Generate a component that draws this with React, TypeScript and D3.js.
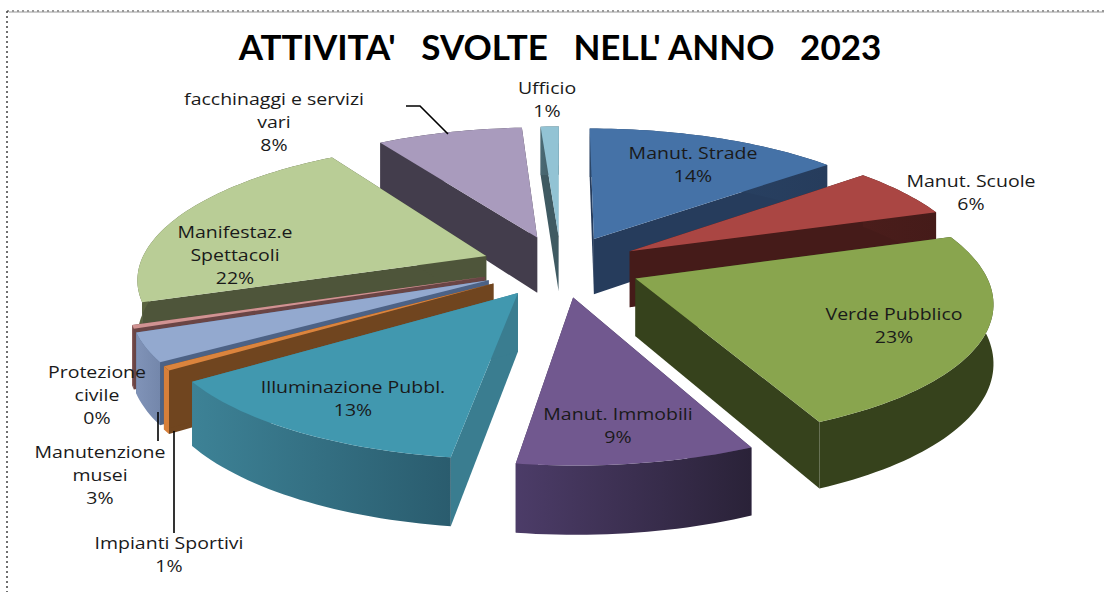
import React from "react";
import * as d3 from "d3";

const categories = ["Manut. Strade","Manut. Scuole","Verde Pubblico","Manut. Immobili","Illuminazione Pubbl.","Impianti Sportivi","Manutenzione musei","Protezione civile","Manifestaz.e Spettacoli","facchinaggi e servizi vari","Ufficio"];
const values = [14,6,23.3,9.2,13.1,0.5,3.4,0.4,21.6,8,1];
const percentLabels = ["14%","6%","23%","9%","13%","1%","3%","0%","22%","8%","1%"];
const topColors = ["#4572a7","#aa4643","#89a54e","#71588f","#4198af","#db843d","#93a9cf","#d19392","#b9cd96","#a99bbd","#92c3d4"];
const faceColors = ["#263c5c","#451b19","#36421c","#3e3155","#3a7d90","#70451f","#4d6285","#6a4545","#4e553a","#433d4c","#3f5a62"];
const wallFrom = ["#2b4668","#4a1d1b","#36421c","#4c3c68","#3d8296","#d67f3a","#8093b8","#8a5a58","#5a6340","#433d4c","#4a6a74"];
const wallTo = ["#263c5c","#451b19","#36421c","#2a2238","#2a5c6e","#d67f3a","#7487ab","#6a4545","#4e553a","#433d4c","#3f5a62"];

const labelLayout: { x: number; y: number; lines: string[] }[] = [
  { x: 693, y: 159, lines: ["Manut. Strade", "14%"] },
  { x: 971, y: 187, lines: ["Manut. Scuole", "6%"] },
  { x: 894, y: 320, lines: ["Verde Pubblico", "23%"] },
  { x: 618, y: 420, lines: ["Manut. Immobili", "9%"] },
  { x: 353, y: 393, lines: ["Illuminazione Pubbl.", "13%"] },
  { x: 169, y: 549, lines: ["Impianti Sportivi", "1%"] },
  { x: 100, y: 458, lines: ["Manutenzione", "musei", "3%"] },
  { x: 97, y: 378, lines: ["Protezione", "civile", "0%"] },
  { x: 235, y: 238, lines: ["Manifestaz.e", "Spettacoli", "22%"] },
  { x: 274, y: 105, lines: ["facchinaggi e servizi", "vari", "8%"] },
  { x: 547, y: 94, lines: ["Ufficio", "1%"] },
];
const leaders = [
  [[158, 412], [158, 441]],
  [[174, 431], [174, 533]],
  [[406, 106], [420, 106], [448, 134]],
];

const CX = 561, CY = 266, R = 347, EXPLODE = 80, TILT = 0.385, DX = 2300, DY = 2400, H = 57;
const LABEL_STRETCH = 1.22;

function project(xw: number, zw: number, drop = 0) {
  const sx = DX / (DX - zw);
  const sy = DY / (DY - zw);
  return [CX + xw * sx, CY + zw * TILT * sy + drop * sy];
}

export default function App() {
  const pie = d3.pie<number>().sort(null).startAngle(0).endAngle(2 * Math.PI);
  const arcs = pie(values);
  const line = d3.line();

  const slices = arcs.map((a, i) => {
    const mid = (a.startAngle + a.endAngle) / 2;
    const ax = EXPLODE * Math.sin(mid);
    const az = -EXPLODE * Math.cos(mid);
    const n = Math.max(2, Math.ceil((a.endAngle - a.startAngle) * 40));
    const angles = d3.range(n + 1).map((k) => a.startAngle + ((a.endAngle - a.startAngle) * k) / n);
    const world = angles.map((t) => [ax + R * Math.sin(t), az - R * Math.cos(t)]);
    const rim = world.map(([x, z]) => project(x, z) as [number, number]);
    const rimLow = world.map(([x, z]) => project(x, z, H) as [number, number]);
    const apex = project(ax, az) as [number, number];
    const apexLow = project(ax, az, H) as [number, number];
    const last = rim.length - 1;
    return { i, az, rim, rimLow, apex, apexLow, last };
  });
  const order = [...slices].sort((p, q) => d3.ascending(p.az, q.az));

  return (
    <svg width={1104} height={592} style={{ position: "absolute", left: 0, top: 0, background: "#fff" }}>
      <defs>
        {slices.map((s) => (
          <linearGradient key={s.i} id={`wall${s.i}`} gradientUnits="objectBoundingBox" x1={0} x2={1} y1={0} y2={0}>
            <stop offset="0%" stopColor={wallFrom[s.i]} />
            <stop offset="100%" stopColor={wallTo[s.i]} />
          </linearGradient>
        ))}
      </defs>
      <line x1={7} x2={1104} y1={11} y2={11} stroke="#333" strokeDasharray="2 3" strokeWidth={1.2} />
      <line x1={9} x2={1104} y1={12} y2={12} stroke="#999" strokeWidth={1} />
      <line x1={7} x2={7} y1={11} y2={592} stroke="#333" strokeDasharray="2 3" strokeWidth={1.4} />
      <text x={560} y={60} textAnchor="middle" fontFamily="Lato" fontWeight={700} fontSize={35} fill="#000" style={{ whiteSpace: "pre" }}>
        {"ATTIVITA'   SVOLTE   NELL' ANNO   2023"}
      </text>
      {order.map((s) => (
        <g key={s.i}>
          <path d={line([s.apex, s.rim[0], s.rimLow[0], s.apexLow]) + "Z"} fill={faceColors[s.i]} />
          <path d={line([s.apex, s.rim[s.last], s.rimLow[s.last], s.apexLow]) + "Z"} fill={faceColors[s.i]} />
          <path d={line([...s.rim, ...[...s.rimLow].reverse()]) + "Z"} fill={`url(#wall${s.i})`} />
          <path d={line([s.apex, ...s.rim]) + "Z"} fill={topColors[s.i]} />
        </g>
      ))}
      {leaders.map((l, i) => (
        <path key={i} d={line(l as [number, number][]) as string} fill="none" stroke="#000" strokeWidth={1.6} />
      ))}
      {categories.map((c, i) => (
        <g key={c} transform={`translate(${labelLayout[i].x},${labelLayout[i].y}) scale(${LABEL_STRETCH},1)`}>
          <text textAnchor="middle" fontFamily="Open Sans" fontSize={16} fill="#1a1a1a">
            {labelLayout[i].lines.map((t, k) => (
              <tspan key={k} x={0} y={k * 23}>{t}</tspan>
            ))}
          </text>
        </g>
      ))}
    </svg>
  );
}
